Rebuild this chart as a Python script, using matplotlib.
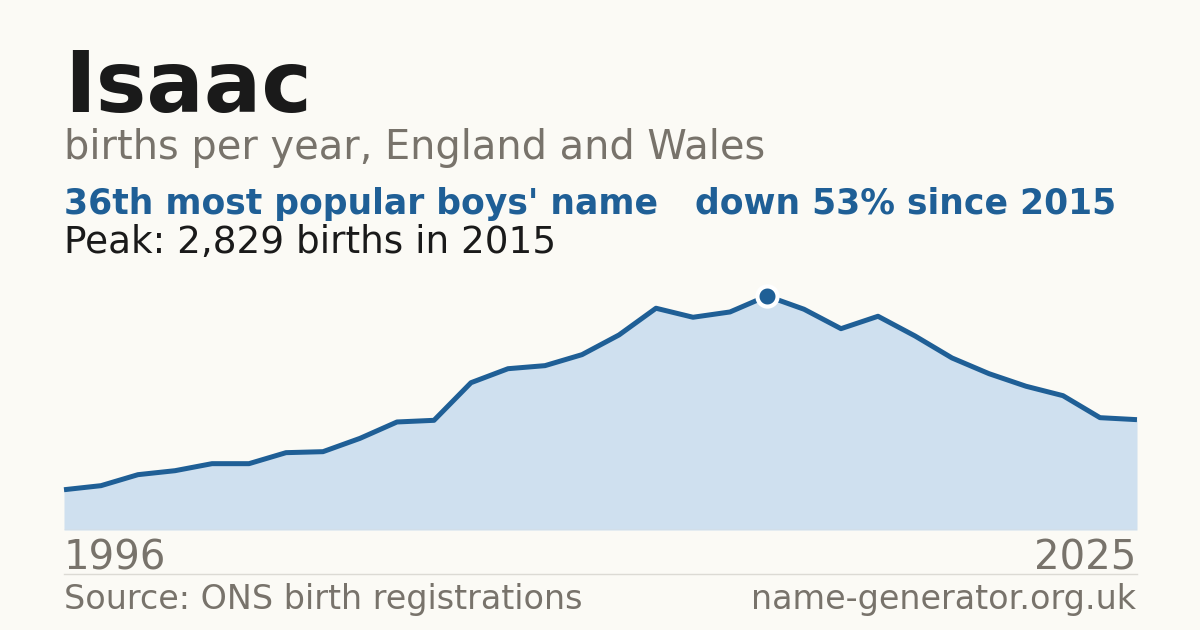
import matplotlib
matplotlib.use("Agg")
import matplotlib.pyplot as plt
from matplotlib.lines import Line2D

# Isaac, births per year (England and Wales)
years = list(range(1996, 2026))
births = [487, 536, 669, 717, 802, 802, 935, 947, 1108, 1306,
          1326, 1781, 1950, 1987, 2120, 2358, 2681, 2572, 2636, 2829,
          2669, 2434, 2584, 2346, 2080, 1890, 1738, 1624, 1358, 1334]

name = "Isaac"
subtitle = "births per year, England and Wales"
rank_text = "36th most popular boys' name"
trend_text = "down 53% since 2015"
peak_text = "Peak: 2,829 births in 2015"
source_text = "Source: ONS birth registrations"
site_text = "name-generator.org.uk"

BG = "#fbfaf5"
BLUE = "#1f5f96"
FILL = "#cfe0ef"
GREY = "#78736b"
DARK = "#1a1a1a"

plt.rcParams["font.family"] = ["DejaVu Sans"]

W, H = 1200, 630
fig = plt.figure(figsize=(W / 100, H / 100), dpi=100, facecolor=BG)


def fx(px):
    return px / W


def fy(py):
    return 1 - py / H


# plot area: x 64..1137, baseline at y=530, peak at y=296
peak_i = births.index(max(births))
ax = fig.add_axes([fx(64), fy(530), (1137 - 64) / W, (530 - 296) / H])
ax.set_facecolor("none")
ax.fill_between(years, births, 0, color=FILL, lw=0, clip_on=False)
ax.plot(years, births, color=BLUE, lw=3.6, solid_joinstyle="round",
        solid_capstyle="butt", clip_on=False, zorder=3)
ax.plot(years[peak_i], births[peak_i], "o", ms=14.5, color=BLUE,
        mec="white", mew=3, clip_on=False, zorder=4)
ax.axhline(0, color="#dcdad4", lw=1, zorder=2)
ax.set_xlim(years[0], years[-1])
ax.set_ylim(0, max(births))
ax.axis("off")

# header
fig.text(fx(64), fy(112), name, fontsize=61.3, fontweight="bold",
         color=DARK, va="baseline")
fig.text(fx(64), fy(159), subtitle, fontsize=28.7, color=GREY,
         va="baseline")
fig.text(fx(64), fy(214), rank_text, fontsize=24.9, fontweight="bold",
         color=BLUE, va="baseline")
fig.text(fx(695), fy(214), trend_text, fontsize=24.9, fontweight="bold",
         color=BLUE, va="baseline")
fig.text(fx(64), fy(253), peak_text, fontsize=26.9, color=DARK,
         va="baseline")

# axis years
fig.text(fx(64), fy(569), str(years[0]), fontsize=28.9, color=GREY,
         va="baseline")
fig.text(fx(1136), fy(569), str(years[-1]), fontsize=28.9, color=GREY,
         va="baseline", ha="right")

# footer
fig.add_artist(Line2D([fx(64), fx(1137)], [fy(574), fy(574)],
                      color="#dcdad4", lw=1))
fig.text(fx(64), fy(609), source_text, fontsize=24, color=GREY,
         va="baseline")
fig.text(fx(1136), fy(609), site_text, fontsize=24, color=GREY,
         va="baseline", ha="right")

fig.savefig("out.png", dpi=100, facecolor=BG)
